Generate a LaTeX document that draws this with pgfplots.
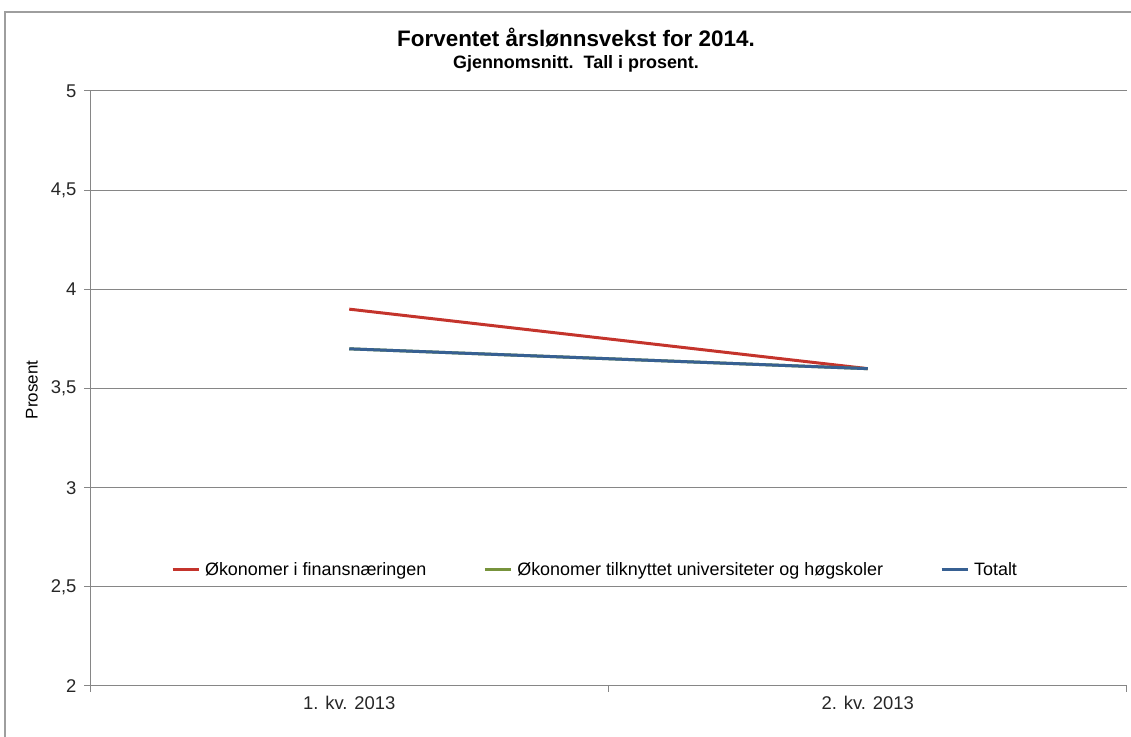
\documentclass[border=0pt]{standalone}
\usepackage{fontspec}
\setmainfont{Liberation Sans}
\usepackage{pgfplots}
\pgfplotsset{compat=1.18}
\definecolor{cred}{RGB}{196,52,44}
\definecolor{cgreen}{RGB}{119,147,60}
\definecolor{cblue}{RGB}{55,96,146}
\definecolor{cgrid}{RGB}{134,134,134}
\begin{document}
\begin{tikzpicture}[x=1bp,y=1bp]
\useasboundingbox (0,0) rectangle (1131,737);
\draw[cgrid!80, line width=1.2bp] (5,0) -- (5,725) -- (1131,725);
\node[font=\bfseries\fontsize{22.5}{26}\selectfont] at (576,699) {Forventet årslønnsvekst for 2014.};
\node[font=\bfseries\fontsize{18}{21}\selectfont] at (576,673) {Gjennomsnitt.\ \ Tall i prosent.};
\node[rotate=90, font=\fontsize{17}{20}\selectfont] at (32,347) {Prosent};
\begin{axis}[
  at={(90bp,51bp)}, anchor=south west, scale only axis,
  width=1037bp, height=595bp,
  xmin=0, xmax=2, ymin=2, ymax=5,
  ytick={2,2.5,3,3.5,4,4.5,5},
  xtick={0,1,2}, xticklabels={},
  extra x ticks={0.5,1.5},
  extra x tick labels={1. kv. 2013, 2. kv. 2013},
  extra x tick style={major tick length=0pt, grid=none},
  axis x line*=bottom, axis y line*=left,
  axis line style={cgrid, line width=1bp, -},
  tick style={cgrid, line width=1bp},
  major tick length=6bp,
  tick align=outside,
  ymajorgrids, grid style={cgrid, line width=1bp},
  /pgf/number format/use comma,
  /pgf/number format/assume math mode=true,
  tick label style={font=\fontsize{18.5}{22}\selectfont, text=black!85},
  yticklabel style={xshift=-4bp},
  xticklabel style={yshift=-7bp},
  legend style={at={(0.487,0.195)}, anchor=center, draw=none, fill=none,
    font=\fontsize{18}{21}\selectfont, legend columns=-1,
    /tikz/every even column/.append style={column sep=55bp}},
  legend image code/.code={\draw[#1, line width=3bp] (0bp,0bp) -- (26bp,0bp); \path (29bp,0bp);},
]
\addplot[cred, line width=3bp] coordinates {(0.5,3.9) (1.5,3.6)};
\addlegendentry{Økonomer i finansnæringen}
\addplot[cgreen, line width=3bp] coordinates {(0.5,3.7) (1.5,3.6)};
\addlegendentry{Økonomer tilknyttet universiteter og høgskoler}
\addplot[cblue, line width=3bp] coordinates {(0.5,3.7) (1.5,3.6)};
\addlegendentry{Totalt}
\end{axis}
\end{tikzpicture}
\end{document}
